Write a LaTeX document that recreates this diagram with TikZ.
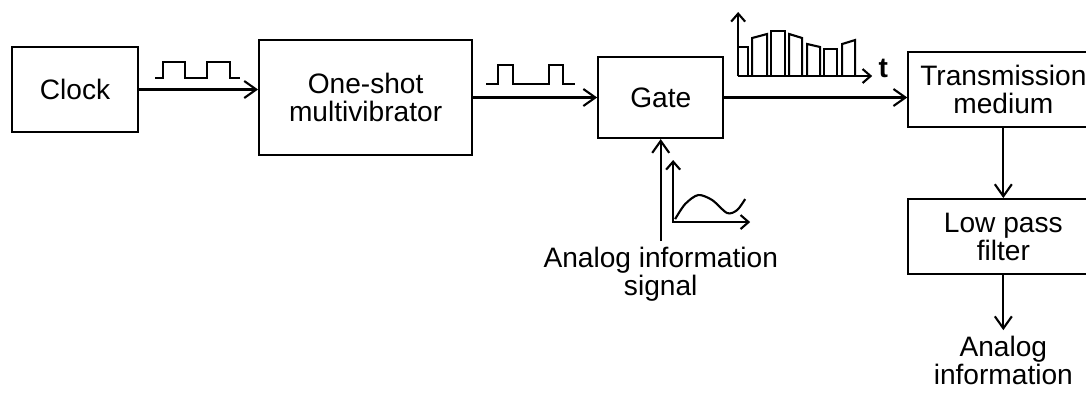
\documentclass[tikz,border=0pt]{standalone}
\usepackage{fontspec}
\setmainfont{Liberation Sans}
\usetikzlibrary{arrows.meta,positioning}

\begin{document}
\begin{tikzpicture}[
    font=\fontsize{16}{16}\selectfont,
    px/.style={shift={(-1.5cm,1.79cm)}, x=0.02cm, y=-0.02cm},
    blk/.style={rectangle, draw=black, line width=1.2pt, align=center,
      inner sep=2pt},
    lbl/.style={align=center},
    arr/.style={-{Straight Barb[length=2.4mm,width=3.4mm]}, line width=1.2pt},
    axarr/.style={-{Straight Barb[length=1.6mm,width=2.8mm]}, line width=1.2pt},
    wave/.style={line width=1.2pt, line join=miter}
  ]
    % page = 1086 x 398 px, clock centre at (75, 89.5) px
    \useasboundingbox (-1.5,1.79) rectangle (20.22,-6.17);

    \node[blk, minimum width=2.52cm, minimum height=1.70cm] (clock) {Clock};
    \node[blk, minimum width=4.26cm, minimum height=2.30cm,
      right=2.38cm of clock, yshift=-1.6mm] (oneshot) {One-shot\\ multivibrator};
    \node[blk, minimum width=2.50cm, minimum height=1.62cm,
      right=2.48cm of oneshot] (gate) {Gate};
    \node[blk, minimum width=3.80cm, minimum height=1.50cm,
      right=3.66cm of gate, yshift=1.6mm] (trans) {Transmission\\ medium};
    \node[blk, minimum width=3.80cm, minimum height=1.50cm,
      below=1.4cm of trans] (lpf) {Low pass\\ filter};
    \node[lbl, below=1.1cm of lpf] (out) {Analog\\ information};
    \node[lbl, below=2.04cm of gate] (sig) {Analog information\\ signal};

    \draw[arr] (clock.east) -- (clock.east -| oneshot.west);
    \draw[arr] (oneshot) -- (gate);
    \draw[arr] (gate.east) -- (gate.east -| trans.west);
    \draw[arr] (trans) -- (lpf);
    \draw[arr] (lpf) -- (out);
    \draw[arr] (sig) -- (gate);

    % small sketches of the signals, in pixels of the page
    \begin{scope}[px]
      % clock pulses
      \draw[wave] (155,78) -- (163,78) -- (163,62) -- (185,62) -- (185,78)
        -- (207,78) -- (207,62) -- (230,62) -- (230,78) -- (240,78);
      % one-shot pulses
      \draw[wave] (486,84) -- (498,84) -- (498,65) -- (513,65) -- (513,84)
        -- (549,84) -- (549,65) -- (563,65) -- (563,84) -- (575,84);
      % sampled signal
      \draw[axarr] (738,76) -- (738,12);
      \draw[axarr] (738,76) -- (872,76);
      \node[inner sep=1pt] (tlbl) at (883,68) {\textbf{t}};
      \foreach \xa/\xb/\ya/\yb in {738/748/47/47, 752/767/38/34, 771/785/31/31,
          789/802/34/38, 807/820/44/47, 824/837/49/49, 842/855/44/40}
        \draw[wave] (\xa,76) -- (\xa,\ya) -- (\xb,\yb) -- (\xb,76);
      % analog signal
      \draw[{Straight Barb[length=1.6mm,width=2.8mm]}-{Straight Barb[length=1.6mm,width=2.8mm]},
        line width=1.2pt] (673,160) -- (673,222) -- (750,222);
      \draw[wave] plot[smooth] coordinates {(675,219) (685,204) (698,195)
        (712,200) (727,213) (737,210) (745,199)};
    \end{scope}
  \end{tikzpicture}
\end{document}
